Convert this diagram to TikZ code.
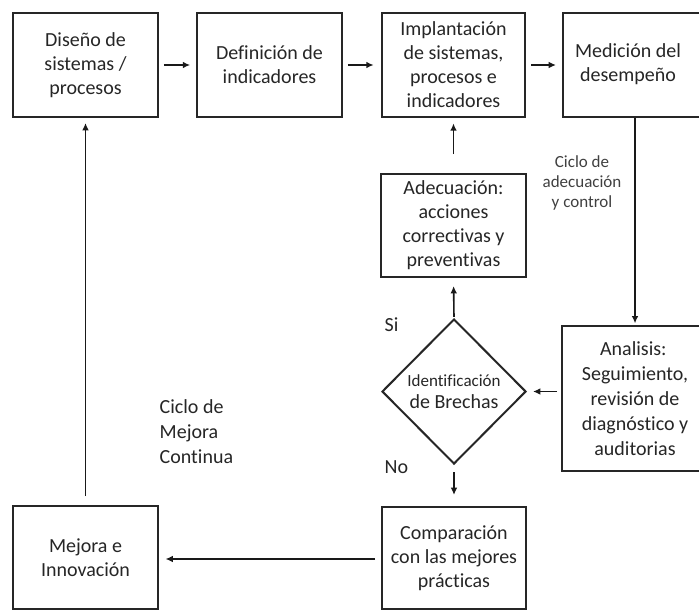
\documentclass[tikz,border=0pt]{standalone}
\usepackage{fontspec}
\setmainfont[Ligatures={NoCommon,NoRare}]{Carlito}
\usetikzlibrary{arrows.meta,shapes.geometric,calc}

\begin{document}
\begin{tikzpicture}[x=0.75pt,y=-0.75pt,
  txt/.style={text=black!85},
  stepbox/.style={draw=black!85,line width=1.5pt,rectangle,inner sep=0pt,
    minimum width=108.5pt,minimum height=78pt,align=center,txt,
    font=\fontsize{15}{18}\selectfont},
  decide/.style={draw=black!85,line width=1.5pt,diamond,aspect=1,inner sep=0pt,
    minimum width=108pt,minimum height=108.75pt,align=center,txt,
    font=\fontsize{15}{16.5}\selectfont},
  conn/.style={draw=black!90,line width=1.2pt,-{Latex[length=5.5pt,width=5pt]}},
  note/.style={txt,font=\fontsize{15}{18.75}\selectfont}
]
\clip (0,0) rectangle (699,611);
\fill[white] (0,0) rectangle (699,611);

% top row
\node[stepbox] (d1) at (85.5,65) {Diseño de\\sistemas /\\procesos};
\node[stepbox] (d2) at (269.5,65) {Definición de\\indicadores};
\node[stepbox,minimum width=107.25pt] (d3) at (453.5,65)
  {Implantación\\de sistemas,\\procesos e\\indicadores};
\node[stepbox,minimum width=108pt] (d4) at (635,65)
  {\begin{tabular}{@{}c@{\hspace{10.5pt}}}Medición del\\desempeño\end{tabular}};

% adjustment loop
\node[stepbox,minimum height=77.25pt] (ade) at (453.5,225.5)
  {Adecuación:\\acciones\\correctivas y\\preventivas};
\node[decide] (dia) at (454,391.5)
  {{\fontsize{12.75}{16.5}\selectfont Identificación}\\de Brechas};
\node[stepbox,minimum width=109.5pt,minimum height=108.75pt,
  font=\fontsize{15}{18.75}\selectfont] (ana) at (635,398.5)
  {Analisis:\hphantom{\,}\\Seguimiento,\\revisión de\\diagnóstico y\\auditorias};

% bottom row
\node[stepbox,minimum width=108pt,minimum height=76.5pt] (comp) at (454,558)
  {Comparación\\con las mejores\\prácticas};
\node[stepbox,minimum height=77.25pt] (mej) at (85.5,557.5)
  {Mejora e\\Innovación};

% free labels
\node[txt,text=black!75,align=center,font=\fontsize{12.75}{15}\selectfont]
  (lab1) at (582,183) {Ciclo de\\adecuación\\y control};
\node[note,anchor=west] (si) at (380,325) {Si};
\node[note,anchor=west] (no) at (380,467) {No};
\node[note,anchor=west,align=left] (lab2) at (155,432)
  {Ciclo de\\Mejora\\Continua};

% connectors
\draw[conn,shorten <=3.75pt,shorten >=4.5pt] (d1.east) -- (d2.west);
\draw[conn,shorten <=3.75pt,shorten >=5.5pt] (d2.east) -- (d3.west);
\draw[conn,shorten <=3.75pt,shorten >=4.5pt] (d3.east) -- (d4.west);
\draw[conn,shorten >=1.2pt] (d4.south) -- (ana.north);
\draw[conn,shorten <=14.25pt,shorten >=4pt] (ade.north) -- (d3.south);
\draw[conn,shorten <=0.8pt,shorten >=6pt] (dia.north) -- (ade.south);
\draw[conn,shorten <=3pt,shorten >=4.5pt] (ana.west |- dia.east) -- (dia.east);
\draw[conn,shorten <=5.25pt,shorten >=8.25pt] (dia.south) -- (comp.north);
\draw[conn,shorten <=4.5pt,shorten >=5pt] (comp.west |- 0,559) -- (mej.east |- 0,559);
\draw[conn,shorten <=6.75pt,shorten >=3.75pt] (mej.north) -- (d1.south);
\end{tikzpicture}
\end{document}
